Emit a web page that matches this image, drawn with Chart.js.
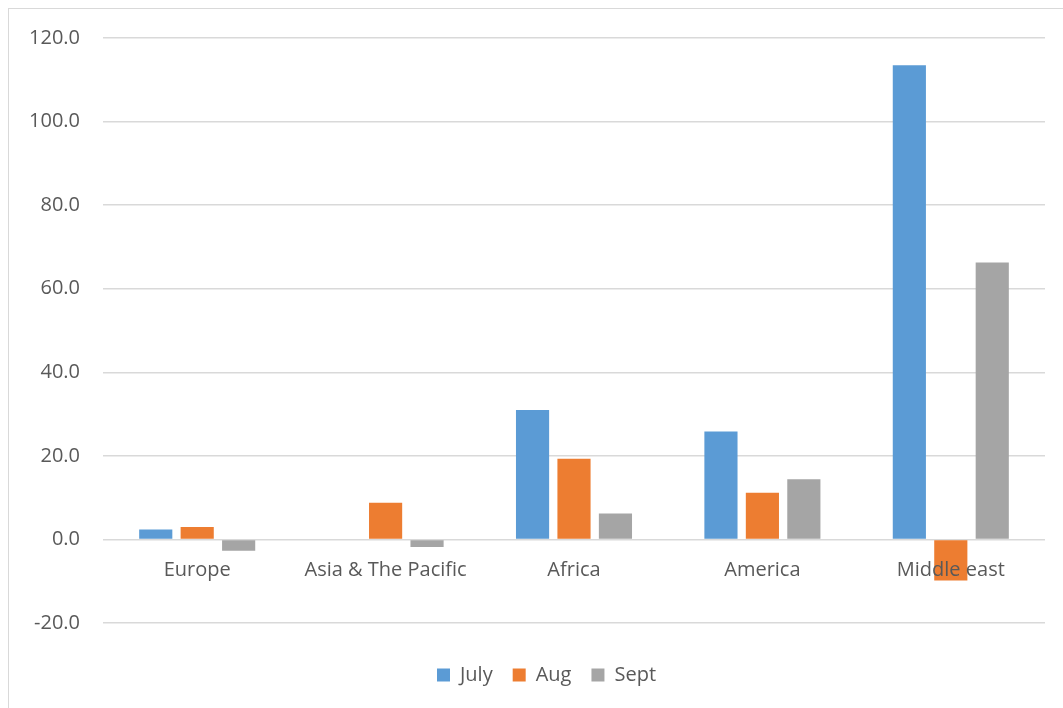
<!DOCTYPE html>
<html>
<head>
<meta charset="utf-8">
<script src="https://cdn.jsdelivr.net/npm/chart.js@4"></script>
<style>
  html,body{margin:0;padding:0;background:#fff;overflow:hidden;}
  #wrap{position:relative;width:1063px;height:708px;}
  #frame{position:absolute;left:8px;top:8px;width:1100px;height:760px;border:1px solid #d9d9d9;box-sizing:border-box;}
  #c{position:absolute;left:0;top:0;}
</style>
</head>
<body>
<div id="wrap">
  <div id="frame"></div>
  <canvas id="c" width="1063" height="708"></canvas>
</div>
<script>
// Data
const regions = ["Europe", "Asia & The Pacific", "Africa", "America", "Middle east"];
const july = [2.4, 0, 31.0, 25.8, 113.5];
const aug  = [3.0, 8.8, 19.3, 11.2, -9.8];
const sept = [-2.7, -1.8, 6.2, 14.4, 66.3];
const yTicks = { min: -20, max: 120, step: 20 };

const txt = "#595959";
const grid = "#d9d9d9";
Chart.defaults.font.family = "'Open Sans', Lato, sans-serif";

// nudge the legend to the right so it sits where Excel put it
const legendShift = {
  id: "legendShift",
  afterLayout(chart) {
    const lg = chart.legend;
    if (!lg) return;
    lg.left += 24;
    lg.right += 24;
  }
};

new Chart(document.getElementById("c"), {
  type: "bar",
  data: {
    labels: regions,
    datasets: [
      { label: "July", data: july, backgroundColor: "#5b9bd5" },
      { label: "Aug",  data: aug,  backgroundColor: "#ed7d31" },
      { label: "Sept", data: sept, backgroundColor: "#a5a5a5" }
    ]
  },
  options: {
    responsive: false,
    animation: false,
    devicePixelRatio: 1,
    datasets: { bar: { categoryPercentage: 0.66, barPercentage: 0.8 } },
    layout: { padding: { top: 38, right: 18, bottom: 13, left: 0 } },
    scales: {
      x: {
        position: { y: 0 },
        grid: { display: false },
        border: { display: false },
        // labels drawn on top of the bars, like in Excel
        ticks: { z: 1, color: txt, font: { size: 20 }, padding: 11, maxRotation: 0 }
      },
      y: {
        min: yTicks.min, max: yTicks.max,
        grid: { color: grid, lineWidth: 1.5, drawTicks: false },
        border: { display: false },
        ticks: { stepSize: yTicks.step, color: txt, font: { size: 20 }, padding: 23,
                 callback: v => v.toFixed(1) },
        afterFit: s => { s.width = 103; }
      }
    },
    plugins: {
      tooltip: { enabled: false },
      legend: {
        position: "bottom",
        title: { display: true, text: "", font: { size: 10, lineHeight: 1 }, padding: { top: 12, bottom: 0 } },
        labels: { color: txt, font: { size: 20 }, boxWidth: 13, boxHeight: 13, padding: 20 }
      }
    }
  },
  plugins: [legendShift]
});
</script>
</body>
</html>
